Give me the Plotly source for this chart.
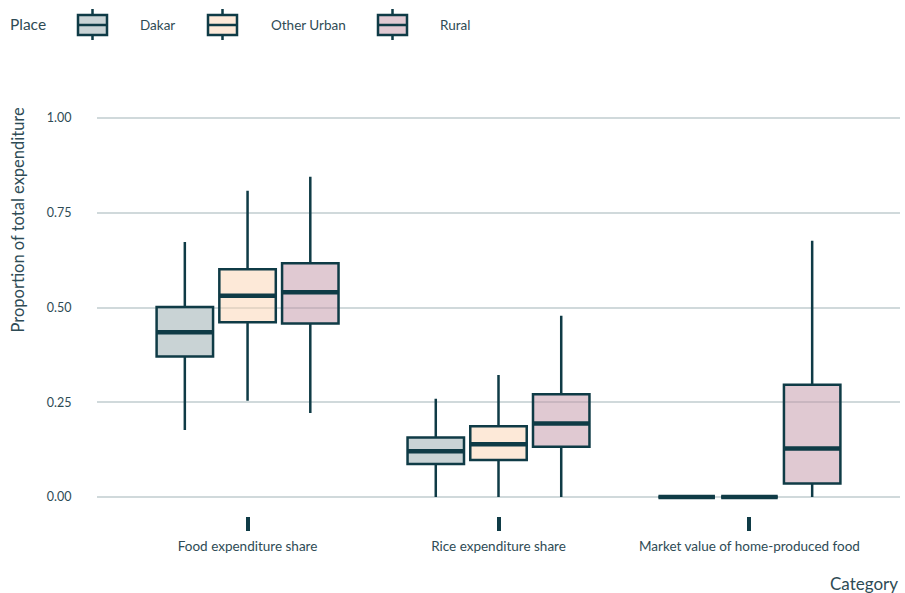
import plotly.graph_objects as go

# ---- data -------------------------------------------------------------
categories = ["Food expenditure share", "Rice expenditure share",
              "Market value of home-produced food"]
places = ["Dakar", "Other Urban", "Rural"]

# five-number summaries, one value per category
dakar_low = [0.177, 0.0, 0.0]
dakar_q1 = [0.371, 0.087, 0.0]
dakar_med = [0.435, 0.121, 0.0]
dakar_q3 = [0.501, 0.157, 0.0]
dakar_high = [0.673, 0.259, 0.0]

urban_low = [0.254, 0.0, 0.0]
urban_q1 = [0.461, 0.098, 0.0]
urban_med = [0.531, 0.139, 0.0]
urban_q3 = [0.601, 0.187, 0.0]
urban_high = [0.808, 0.322, 0.0]

rural_low = [0.222, 0.0, 0.0]
rural_q1 = [0.458, 0.133, 0.036]
rural_med = [0.540, 0.194, 0.128]
rural_q3 = [0.617, 0.271, 0.296]
rural_high = [0.845, 0.478, 0.676]

y_ticks = [0.0, 0.25, 0.5, 0.75, 1.0]

# ---- style ------------------------------------------------------------
FONT = "Lato"
INK = "#0f3b46"
TEXT = "#2e4b55"
GRID = "#d0d9db"
fills = {
    "Dakar": "rgba(147,167,171,0.5)",
    "Other Urban": "rgba(251,211,177,0.5)",
    "Rural": "rgba(193,147,165,0.5)",
}

W, H = 905, 593
M_L, M_R, M_T, M_B = 97, 5, 99, 77
PLOT_W = W - M_L - M_R
PLOT_H = H - M_T - M_B
X_RANGE = [-0.6, len(categories) - 0.4]
BOXGAP, BOXGROUPGAP = 0.25, 0.1
box_px = (1 - BOXGAP) / len(places) * (1 - BOXGROUPGAP) * PLOT_W / (X_RANGE[1] - X_RANGE[0])
# the "line-ew" marker path spans 1.4 x its size
median_size = box_px / 1.4

stats = {
    "Dakar": (dakar_low, dakar_q1, dakar_med, dakar_q3, dakar_high),
    "Other Urban": (urban_low, urban_q1, urban_med, urban_q3, urban_high),
    "Rural": (rural_low, rural_q1, rural_med, rural_q3, rural_high),
}

fig = go.Figure()
for place in places:
    low, q1, med, q3, high = stats[place]
    fig.add_trace(go.Box(
        x=categories, lowerfence=low, q1=q1, median=med, q3=q3, upperfence=high,
        name=place, offsetgroup=place, fillcolor=fills[place],
        line=dict(color=INK, width=2.5), whiskerwidth=0, showlegend=False,
    ))
# heavier median bars laid over each box
for place in places:
    med = stats[place][2]
    fig.add_trace(go.Scatter(
        x=categories, y=med, mode="markers", offsetgroup=place, name=place,
        marker=dict(symbol="line-ew", size=median_size,
                    line=dict(color=INK, width=4.5)),
        showlegend=False, hoverinfo="skip",
    ))


def px(x):
    return (x - M_L) / PLOT_W


def py(y):
    return (H - M_B - y) / PLOT_H


# ---- legend drawn along the top --------------------------------------
shapes = []
annotations = [dict(text="Place", x=px(8), y=py(24), xref="paper", yref="paper",
                    xanchor="left", yanchor="middle", showarrow=False,
                    font=dict(family=FONT, size=15.5, color=TEXT))]
key_left = {"Dakar": 78, "Other Urban": 208, "Rural": 378}
label_left = {"Dakar": 138, "Other Urban": 269, "Rural": 438}
for place in places:
    x0 = key_left[place]
    xm = x0 + 14.5
    shapes.append(dict(type="line", xref="paper", yref="paper",
                       x0=px(xm), x1=px(xm), y0=py(9), y1=py(40),
                       line=dict(color=INK, width=2.5)))
    shapes.append(dict(type="rect", xref="paper", yref="paper",
                       x0=px(x0), x1=px(x0 + 29), y0=py(15), y1=py(35),
                       fillcolor="white", line=dict(width=0)))
    shapes.append(dict(type="rect", xref="paper", yref="paper",
                       x0=px(x0), x1=px(x0 + 29), y0=py(15), y1=py(35),
                       fillcolor=fills[place], line=dict(color=INK, width=2.5)))
    shapes.append(dict(type="line", xref="paper", yref="paper",
                       x0=px(x0), x1=px(x0 + 29), y0=py(25), y1=py(25),
                       line=dict(color=INK, width=2.5)))
    annotations.append(dict(text=place, x=px(label_left[place]), y=py(25),
                            xref="paper", yref="paper", xanchor="left",
                            yanchor="middle", showarrow=False,
                            font=dict(family=FONT, size=13.5, color=TEXT)))

# axis titles
annotations.append(dict(text="Proportion of total expenditure", textangle=-90,
                        x=px(17), y=py(106), xref="paper", yref="paper",
                        xanchor="center", yanchor="top", showarrow=False,
                        font=dict(family=FONT, size=16.5, color=TEXT)))
annotations.append(dict(text="Category", x=1, y=py(583), xref="paper", yref="paper",
                        xanchor="right", yanchor="middle", showarrow=False,
                        font=dict(family=FONT, size=17, color=TEXT)))

fig.update_layout(
    width=W, height=H,
    margin=dict(l=M_L, r=M_R, t=M_T, b=M_B),
    paper_bgcolor="white", plot_bgcolor="white",
    boxmode="group", boxgap=BOXGAP, boxgroupgap=BOXGROUPGAP,
    scattermode="group", scattergap=BOXGAP,
    font=dict(family=FONT, color=TEXT),
    shapes=shapes, annotations=annotations,
    showlegend=False,
)
fig.update_xaxes(
    type="category", categoryorder="array", categoryarray=categories,
    range=X_RANGE, showgrid=False, zeroline=False, showline=False,
    ticks="outside", ticklen=14, tickwidth=4, tickcolor=INK,
    ticklabelstandoff=4,
    tickfont=dict(family=FONT, size=13.5, color=TEXT),
)
fig.update_yaxes(
    range=[-0.05, 1.05], tickvals=y_ticks,
    ticktext=[f"{v:.2f}" for v in y_ticks],
    showgrid=True, gridcolor=GRID, gridwidth=2, zeroline=False, showline=False,
    ticks="outside", ticklen=22, tickcolor="rgba(0,0,0,0)",
    tickfont=dict(family=FONT, size=12.5, color=TEXT),
)

fig.write_html("out.html")
